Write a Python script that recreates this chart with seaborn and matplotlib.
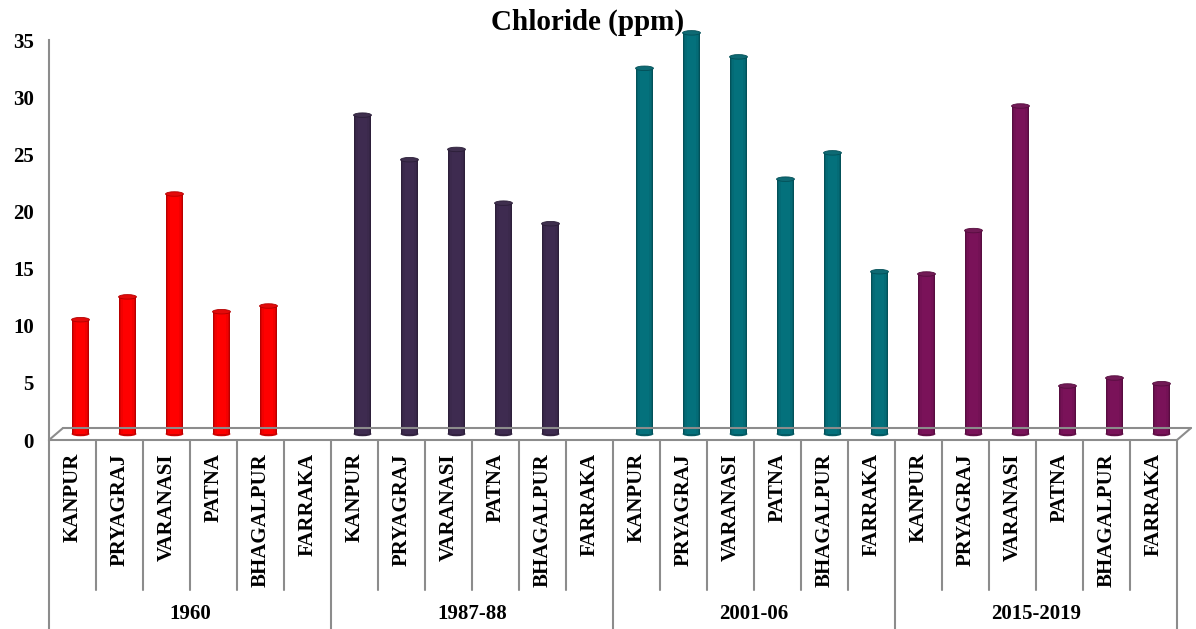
import numpy as np
import pandas as pd
import matplotlib
matplotlib.use("Agg")
import matplotlib.pyplot as plt
import seaborn as sns
from matplotlib.patches import Ellipse
from matplotlib.lines import Line2D

# Chloride concentration (ppm) along the Ganga, by survey period
stations = ["KANPUR", "PRYAGRAJ", "VARANASI", "PATNA", "BHAGALPUR", "FARRAKA"]
periods = ["1960", "1987-88", "2001-06", "2015-2019"]
chloride_1960 = [10.0, 12.0, 21.0, 10.7, 11.2, np.nan]
chloride_1987 = [27.9, 24.0, 24.9, 20.2, 18.4, np.nan]
chloride_2001 = [32.0, 35.1, 33.0, 22.3, 24.6, 14.2]
chloride_2015 = [14.0, 17.8, 28.7, 4.2, 4.9, 4.4]
period_colors = ["#FF0000", "#3E2B50", "#04717C", "#7A1259"]

series = [chloride_1960, chloride_1987, chloride_2001, chloride_2015]
rows = []
for p, vals in zip(periods, series):
    for s, v in zip(stations, vals):
        rows.append({"slot": f"{p}|{s}", "period": p, "station": s, "value": v})
df = pd.DataFrame(rows)

sns.set_style("white")
plt.rcParams["font.family"] = ["Liberation Serif", "DejaVu Serif"]
plt.rcParams["text.color"] = "black"
plt.rcParams["ytick.color"] = "black"

W, H = 1196, 629
fig = plt.figure(figsize=(W / 100, H / 100), dpi=100)
x0, x1, y0, y1 = 49, 1177, 440, 40
ax = fig.add_axes([x0 / W, 1 - y0 / H, (x1 - x0) / W, (y0 - y1) / H])

order = list(df["slot"])
sns.barplot(data=df, x="slot", y="value", hue="period", order=order,
            hue_order=periods, palette=period_colors, dodge=False,
            width=0.38, legend=False, ax=ax, linewidth=0, saturation=1)

ax.set_ylim(0, 35)
ax.set_xlim(-0.5, len(order) - 0.5)
ax.set_yticks(range(0, 36, 5))
ax.set_yticklabels([str(t) for t in range(0, 36, 5)], fontsize=15,
                   fontweight="bold", color="black")
ax.set_xticks([])
ax.set_xlabel("")
ax.set_ylabel("")
for side in ["top", "right", "bottom"]:
    ax.spines[side].set_visible(False)
ax.spines["left"].set_color("#8C8C8C")
ax.spines["left"].set_linewidth(1.5)
ax.tick_params(axis="y", length=6, width=1.5, color="#8C8C8C", pad=5)

# Cylinder-style columns standing a little behind the front edge of the floor
dx_units = (x1 - x0) / len(order)
px_per_val = (y0 - y1) / 35.0
shift_x = 8 / dx_units            # depth shift (data units along x)
base = 6 / px_per_val             # depth shift (data units along y)
cap_h = 4.5 / px_per_val
for bar in list(ax.patches):
    h = bar.get_height()
    bar.set_visible(False)
    if not np.isfinite(h) or h <= 0:
        continue
    col = np.array(matplotlib.colors.to_rgb(bar.get_facecolor()))
    bx, bw = bar.get_x() + shift_x, bar.get_width()
    # solid body, then narrower lighter strips toward the centre
    ax.add_patch(plt.Rectangle((bx, base), bw, h,
                               facecolor=np.clip(col * 0.72, 0, 1),
                               edgecolor="none", zorder=3, clip_on=False))
    for k, (frac, shade) in enumerate([(0.85, 0.86), (0.7, 0.95), (0.5, 1.0)]):
        w = bw * frac
        ax.add_patch(plt.Rectangle((bx + (bw - w) / 2, base), w, h,
                                   facecolor=np.clip(col * shade, 0, 1),
                                   edgecolor="none", zorder=3.1 + k * 0.1,
                                   clip_on=False))
    ax.add_patch(Ellipse((bx + bw / 2, base), bw, cap_h,
                         facecolor=np.clip(col * 0.8, 0, 1),
                         edgecolor="none", zorder=2.5, clip_on=False))
    ax.add_patch(Ellipse((bx + bw / 2, base + h), bw, cap_h,
                         facecolor=np.clip(col * 0.85 + 0.04, 0, 1),
                         edgecolor=np.clip(col * 0.7, 0, 1), lw=0.6,
                         zorder=4, clip_on=False))

# 3D floor outline
gray = "#8C8C8C"
fig_lines = [
    ((x0, x1), (y0, y0)),
    ((x0 + 14, x1 + 14), (y0 - 12, y0 - 12)),
    ((x0, x0 + 14), (y0, y0 - 12)),
    ((x1, x1 + 14), (y0, y0 - 12)),
]
for xs, ys in fig_lines:
    fig.add_artist(Line2D([v / W for v in xs], [1 - v / H for v in ys],
                          color=gray, lw=1.5, zorder=1))

# Two-level category axis
label_bottom = 590
for i in range(len(order) + 1):
    xp = x0 + i * dx_units
    ybot = H if i % len(stations) == 0 else label_bottom
    fig.add_artist(Line2D([xp / W, xp / W], [1 - y0 / H, 1 - ybot / H],
                          color=gray, lw=1.5))
for i, s in enumerate(df["station"]):
    xp = x0 + (i + 0.5) * dx_units
    fig.text(xp / W, 1 - 453 / H, s, rotation=90, ha="center", va="top",
             fontsize=15, fontweight="bold", color="black")
for g, p in enumerate(periods):
    xp = x0 + (g + 0.5) * len(stations) * dx_units
    fig.text(xp / W, 1 - 614 / H, p, ha="center", va="center",
             fontsize=15, fontweight="bold", color="black")

fig.text(588 / W, 1 - 22 / H, "Chloride (ppm)", ha="center", va="center",
         fontsize=21, fontweight="bold", color="black")

fig.savefig("out.png", dpi=100)
